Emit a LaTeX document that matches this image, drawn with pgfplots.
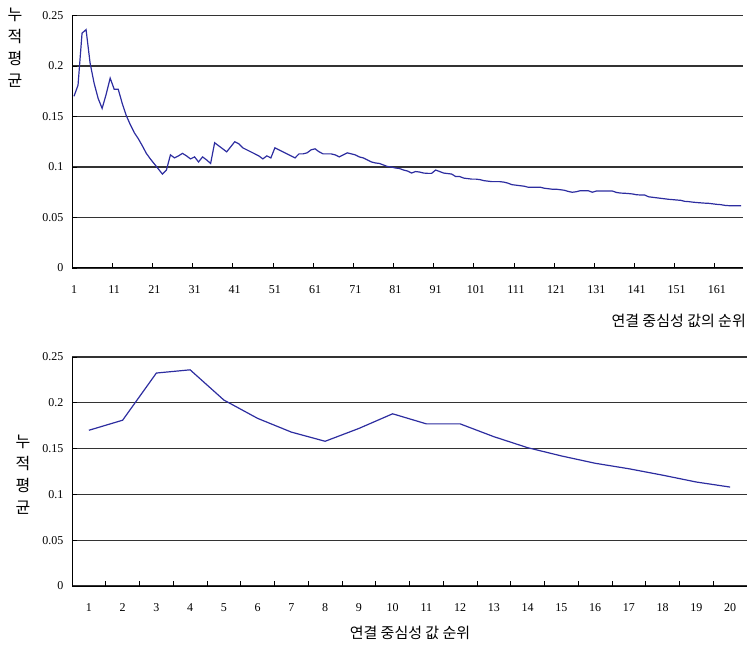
\documentclass[border=0pt]{standalone}
\usepackage{fontspec}
\setmainfont{Liberation Serif}
\newfontfamily\kr{Noto Sans CJK KR}
\usepackage{pgfplots}
\pgfplotsset{compat=1.18}
\usepackage{pgfplotstable}
\definecolor{ln}{RGB}{45,45,160}

\pgfplotstableread{
x y
1 0.170
2 0.181
3 0.2325
4 0.236
5 0.203
6 0.183
7 0.168
8 0.158
9 0.172
10 0.188
11 0.177
12 0.177
13 0.163
14 0.151
15 0.142
16 0.134
17 0.128
18 0.121
19 0.1135
20 0.108
21 0.103
22 0.098
23 0.093
24 0.097
25 0.112
26 0.109
27 0.111
28 0.1135
29 0.111
30 0.108
31 0.110
32 0.105
33 0.110
34 0.107
35 0.1035
36 0.124
37 0.121
38 0.118
39 0.115
40 0.120
41 0.125
42 0.123
43 0.119
44 0.117
45 0.115
46 0.113
47 0.111
48 0.108
49 0.111
50 0.109
51 0.119
52 0.117
53 0.115
54 0.113
55 0.111
56 0.109
57 0.113
58 0.113
59 0.114
60 0.117
61 0.118
62 0.115
63 0.113
64 0.113
65 0.113
66 0.112
67 0.110
68 0.112
69 0.114
70 0.113
71 0.112
72 0.110
73 0.109
74 0.107
75 0.105
76 0.104
77 0.1035
78 0.102
79 0.1005
80 0.100
81 0.099
82 0.0985
83 0.097
84 0.096
85 0.094
86 0.0955
87 0.095
88 0.094
89 0.0937
90 0.0937
91 0.097
92 0.0955
93 0.094
94 0.0935
95 0.093
96 0.0905
97 0.0905
98 0.089
99 0.0885
100 0.088
101 0.088
102 0.0875
103 0.0865
104 0.086
105 0.0855
106 0.0855
107 0.0855
108 0.085
109 0.084
110 0.0825
111 0.082
112 0.0815
113 0.081
114 0.080
115 0.080
116 0.080
117 0.080
118 0.079
119 0.0785
120 0.078
121 0.078
122 0.0775
123 0.077
124 0.0758
125 0.075
126 0.0755
127 0.0765
128 0.0765
129 0.0765
130 0.075
131 0.0762
132 0.0762
133 0.0762
134 0.0762
135 0.0762
136 0.0748
137 0.0742
138 0.074
139 0.0737
140 0.0733
141 0.0725
142 0.0723
143 0.0723
144 0.0705
145 0.070
146 0.0695
147 0.069
148 0.0685
149 0.068
150 0.0677
151 0.0673
152 0.067
153 0.066
154 0.0657
155 0.0652
156 0.0648
157 0.0645
158 0.0642
159 0.064
160 0.0635
161 0.063
162 0.0627
163 0.062
164 0.0617
165 0.0617
166 0.0617
167 0.0617
}\topdata

\pgfplotstableread{
x y
1 0.170
2 0.181
3 0.2325
4 0.236
5 0.203
6 0.183
7 0.168
8 0.158
9 0.172
10 0.188
11 0.177
12 0.177
13 0.163
14 0.151
15 0.142
16 0.134
17 0.128
18 0.121
19 0.1135
20 0.108
}\botdata

\pgfplotsset{common/.style={
  scale only axis,
  axis lines*=left,
  axis line style={black, line width=1pt},
  ymin=0, ymax=0.25,
  ytick={0,0.05,0.1,0.15,0.2,0.25},
  yticklabels={0,0.05,0.1,0.15,0.2,0.25},
  ymajorgrids,
  grid style={black!80, line width=1.1pt},
  tick align=inside,
  major tick length=5pt,
  minor tick length=5pt,
  major x tick style={draw=none},
  minor x tick style={black, line width=0.8pt},
  major y tick style={black, line width=0.8pt},
  tick label style={font=\fontsize{12}{12}\selectfont},
  /pgf/number format/assume math mode=true,
  yticklabel style={xshift=-5pt},
  xticklabel style={yshift=-14pt},
}}

\begin{document}
\begin{tikzpicture}
\path[use as bounding box] (0pt,0pt) rectangle (751pt,645pt);

\begin{axis}[common,
  at={(72pt,377pt)}, anchor=south west,
  width=671pt, height=252.5pt,
  xmin=0.5, xmax=167.5,
  xtick={1,11,21,31,41,51,61,71,81,91,101,111,121,131,141,151,161},
  xticklabels={1,11,21,31,41,51,61,71,81,91,101,111,121,131,141,151,161},
  minor xtick={10.5,20.5,30.5,40.5,50.5,60.5,70.5,80.5,90.5,100.5,110.5,120.5,130.5,140.5,150.5,160.5},
]
\addplot[ln, line width=1.2pt, mark=none] table[x=x, y=y] {\topdata};
\end{axis}

\begin{axis}[common,
  at={(72pt,59pt)}, anchor=south west,
  width=675pt, height=229pt,
  xmin=0.5, xmax=20.5,
  xtick={1,2,...,20},
  xticklabels={1,2,3,4,5,6,7,8,9,10,11,12,13,14,15,16,17,18,19,20},
  minor xtick={1.5,2.5,...,19.5},
]
\addplot[ln, line width=1.2pt, mark=none] table[x=x, y=y] {\botdata};
\end{axis}

\node[anchor=east, inner sep=0pt, font=\kr\fontsize{15}{15}\selectfont] at (746pt,324pt) {연결 중심성 값의 순위};
\node[inner sep=0pt, font=\kr\fontsize{15}{15}\selectfont] at (410pt,12pt) {연결 중심성 값 순위};
\node[inner sep=0pt, align=center, font=\kr\fontsize{16}{22}\selectfont] at (15pt,597pt) {누\\적\\평\\균};
\node[inner sep=0pt, align=center, font=\kr\fontsize{16}{22}\selectfont] at (23pt,170pt) {누\\적\\평\\균};
\end{tikzpicture}
\end{document}
